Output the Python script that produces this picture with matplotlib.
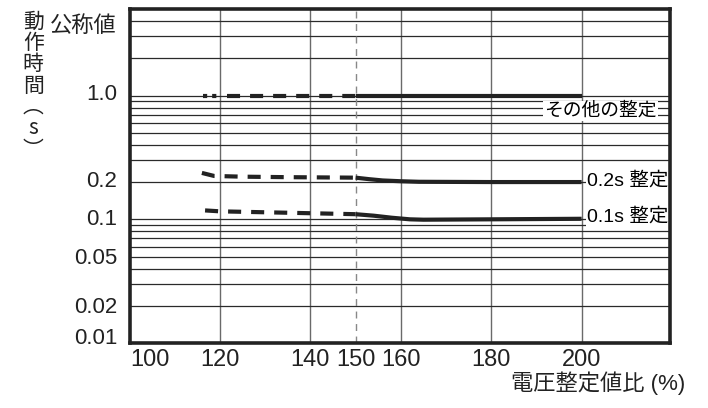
import matplotlib
matplotlib.use("Agg")
import matplotlib.pyplot as plt
import numpy as np

plt.rcParams['font.family'] = ['Liberation Sans', 'Noto Sans CJK JP', 'DejaVu Sans']
plt.rcParams['lines.scale_dashes'] = False

# Data
x_tick_labels = ["100", "120", "140", "150", "160", "180", "200"]
x_grid = [120, 140, 160, 180, 200]
y_tick_labels = ["公称値", "1.0", "0.2", "0.1", "0.05", "0.02", "0.01"]
y_grid = [0.02, 0.03, 0.04, 0.05, 0.06, 0.07, 0.08, 0.09,
          0.1, 0.2, 0.3, 0.4, 0.5, 0.6, 0.7, 0.8, 0.9, 1.0, 2.0, 3.0, 4.0]

# その他の整定
other_dots_x = [116.2, 119.4]
other_dots_y = [1.0, 1.0]
other_dash_x = [121.5, 150]
other_dash_y = [1.0, 1.0]
other_solid_x = [150, 200]
other_solid_y = [1.0, 1.0]

# 0.2s 整定
s02_dash_x = [116.0, 118.7, 125, 135, 150]
s02_dash_y = [0.237, 0.224, 0.221, 0.219, 0.217]
s02_solid_x = [150, 153, 156, 160, 164, 180, 200]
s02_solid_y = [0.217, 0.211, 0.206, 0.203, 0.201, 0.2, 0.2]

# 0.1s 整定
s01_dash_x = [116.7, 120, 135, 150]
s01_dash_y = [0.118, 0.116, 0.113, 0.110]
s01_solid_x = [150, 154, 158, 162, 165, 180, 200]
s01_solid_y = [0.110, 0.107, 0.103, 0.100, 0.0993, 0.100, 0.101]

# label positions (layout)
x_label_pos = [104.5, 120, 140, 150, 160, 180, 200]
y_label_pos = [3.78, 1.07, 0.21, 0.104, 0.0507, 0.0205, 0.0115]

fig = plt.figure(figsize=(7.08, 4.08), dpi=100)
ax = fig.add_axes([0.183, 0.159, 0.763, 0.819])
ax.set_yscale('log')
ax.set_xlim(100, 219.5)
ax.set_ylim(0.01, 5.0)

# grid
for g in x_grid:
    ax.axvline(g, color='#6a6a6a', lw=1.0, zorder=1)
for g in y_grid:
    ax.axhline(g, color='#2a2a2a', lw=0.9, zorder=1)
ax.axvline(150, color='#888888', lw=1.0, linestyle=(0, (5, 4)), zorder=1)

lw = 3.0
col = '#222222'
ax.plot(other_dots_x, other_dots_y, color=col, lw=lw, linestyle=(0, (3.0, 3.6)),
        solid_capstyle='butt', dash_capstyle='butt', zorder=3)
ax.plot(other_dash_x, other_dash_y, color=col, lw=lw, linestyle=(0, (9.4, 7.2)),
        dash_capstyle='butt', zorder=3)
ax.plot(other_solid_x, other_solid_y, color=col, lw=lw, solid_capstyle='butt', zorder=3)

ax.plot(s02_dash_x, s02_dash_y, color=col, lw=lw, linestyle=(0, (9.4, 7.2)),
        dash_capstyle='butt', zorder=3)
ax.plot(s02_solid_x, s02_solid_y, color=col, lw=lw, solid_capstyle='butt', zorder=3)

ax.plot(s01_dash_x, s01_dash_y, color=col, lw=lw, linestyle=(0, (9.4, 7.2)),
        dash_capstyle='butt', zorder=3)
ax.plot(s01_solid_x, s01_solid_y, color=col, lw=lw, solid_capstyle='butt', zorder=3)

# curve labels
box = dict(facecolor='white', edgecolor='none', pad=1.0)
ax.text(204.1, 0.755, "その他の整定", fontsize=13.5, va='center', ha='center', bbox=box, zorder=4)
ax.text(201.2, 0.203, "0.2s 整定", fontsize=14, va='center', ha='left', bbox=box, zorder=4)
ax.text(201.2, 0.104, "0.1s 整定", fontsize=14, va='center', ha='left', bbox=box, zorder=4)

# ticks
ax.set_xticks(x_label_pos)
ax.set_xticklabels(x_tick_labels, fontsize=17)
ax.set_yticks(y_label_pos)
ax.set_yticklabels(y_tick_labels, fontsize=16)
ax.yaxis.set_minor_locator(plt.NullLocator())
ax.tick_params(axis='both', length=0, colors='#222222')
ax.tick_params(axis='x', pad=4)
ax.tick_params(axis='y', pad=9)

for s in ax.spines.values():
    s.set_linewidth(2.6)
    s.set_color('#222222')
    s.set_zorder(5)

# axis titles
fig.text(0.047, 0.974, "動\n作\n時\n間\n︵\ns\n︶", fontsize=15, ha='center', va='top',
         linespacing=0.96, color='#222222', family=['Noto Sans CJK JP', 'DejaVu Sans'])
fig.text(0.968, 0.061, "電圧整定値比 (%)", fontsize=16, ha='right', va='center', color='#222222')

fig.savefig("out.png", dpi=100)
